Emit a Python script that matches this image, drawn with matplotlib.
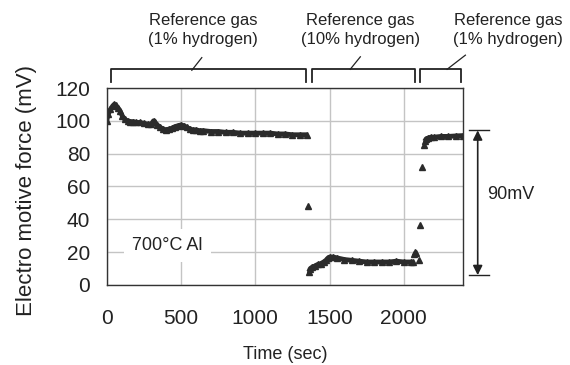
import matplotlib
matplotlib.use("Agg")
import matplotlib.pyplot as plt

plt.rcParams["font.family"] = ["Liberation Sans", "DejaVu Sans"]

# 1% hydrogen reference gas, first period
t1 = [0, 10, 25, 40, 50, 60, 75, 90, 105, 120, 140, 160, 180, 200, 225, 250, 275, 300,
      315, 325, 340, 360, 380, 400, 420, 440, 460, 480, 500, 520, 540, 560, 580, 600,
      625, 650, 700, 750, 800, 850, 900, 950, 1000, 1050, 1100, 1150, 1200, 1250, 1300, 1350]
emf1 = [100, 104, 107, 109, 110, 109.5, 108, 106, 103, 101, 100, 99.5, 99.5, 99, 99, 98.5, 98, 98,
        100, 99, 97.5, 96, 95, 94.5, 95, 95.5, 96.5, 97, 97.5, 97, 96, 95, 94.5, 94.5,
        94, 94, 93.5, 93.5, 93, 93, 92.5, 92.5, 92.5, 92.5, 92.5, 92, 92, 91.5, 91.5, 91.5]

# 10% hydrogen reference gas
t2 = [1360, 1370, 1385, 1400, 1420, 1440, 1460, 1475, 1490, 1500, 1525, 1550, 1600, 1650,
      1700, 1750, 1800, 1850, 1900, 1950, 2000, 2050, 2060]
emf2 = [8, 10, 11, 11.5, 12.5, 13, 14, 15, 16.5, 17, 17, 16.5, 15.5, 15,
        14.5, 14, 14, 14, 14, 14.5, 14, 14, 14]

# 1% hydrogen reference gas, second period
t3 = [2140, 2150, 2165, 2180, 2200, 2250, 2300, 2350, 2400]
emf3 = [87.5, 89, 89.5, 90, 90, 90.5, 90.5, 90.8, 91]

# transition points
t_jump = [1352, 2065, 2075, 2085, 2100, 2111, 2122, 2134]
emf_jump = [48, 19, 20, 19.5, 15.5, 36.5, 72, 85]

gas_labels = ["Reference gas\n(1% hydrogen)", "Reference gas\n(10% hydrogen)", "Reference gas\n(1% hydrogen)"]
gas_spans = [(27, 1343), (1381, 2077), (2106, 2387)]

ink = "#2b2b2b"

fig = plt.figure(figsize=(5.7, 3.65), dpi=100)
ax = fig.add_axes([0.1872, 0.2192, 0.6256, 0.5397])

for t, e in [(t1, emf1), (t2, emf2), (t3, emf3)]:
    ax.plot(t, e, color=ink, lw=3.5, marker="^", ms=4.5, solid_capstyle="butt")
ax.plot(t_jump, emf_jump, ls="none", color=ink, marker="^", ms=4.5)

ax.set_xlim(0, 2400)
ax.set_ylim(0, 120)
ax.set_xticks([0, 500, 1000, 1500, 2000])
ax.set_yticks(range(0, 121, 20))
ax.grid(True, color="#c4c4c4", lw=1)
ax.set_axisbelow(True)
for s in ax.spines.values():
    s.set_color("#333333")
    s.set_linewidth(1)
ax.tick_params(axis="both", length=0, labelsize=15, labelcolor="#222222")
ax.tick_params(axis="x", pad=17)
ax.tick_params(axis="y", pad=12)

ax.set_ylabel("Electro motive force (mV)", fontsize=16, color="#222222")
ax.yaxis.set_label_coords(-0.195, 0.482)
ax.set_xlabel("Time (sec)", fontsize=13, color="#222222")
ax.xaxis.set_label_coords(0.5, -0.31)

ax.text(410, 24, "700\u00b0C Al", fontsize=13, color="#222222", ha="center", va="center",
        bbox=dict(boxstyle="square,pad=0.45", fc="white", ec="none"))

# bracket annotations above the plot
leaders = [((573, 130.8), (640, 138.5)), ((1639, 131.4), (1707, 139)), ((2291, 131.4), (2414, 140))]
text_x = [647, 1707, 2701]
for (a, b), (p, q), tx, lab in zip(gas_spans, leaders, text_x, gas_labels):
    ax.plot([a, a, b, b], [123.8, 131.4, 131.4, 123.8], color="#222222", lw=1.3, clip_on=False)
    ax.plot([p[0], q[0]], [p[1], q[1]], color="#222222", lw=0.9, clip_on=False)
    ax.text(tx, 155.3, lab, fontsize=12, color="#222222", ha="center", va="center",
            linespacing=1.3, clip_on=False)

# 90 mV span marker
ax.plot([2437, 2572], [94.2, 94.2], color="#222222", lw=1, clip_on=False)
ax.plot([2437, 2572], [6, 6], color="#222222", lw=1, clip_on=False)
ax.annotate("", xy=(2497, 6), xytext=(2497, 94.2), annotation_clip=False,
            arrowprops=dict(arrowstyle="<|-|>", color="#222222", lw=1.2,
                            mutation_scale=14, shrinkA=0, shrinkB=0))
ax.text(2563, 55, "90mV", fontsize=13, color="#222222", ha="left", va="center")

fig.savefig("out.png", dpi=100)
